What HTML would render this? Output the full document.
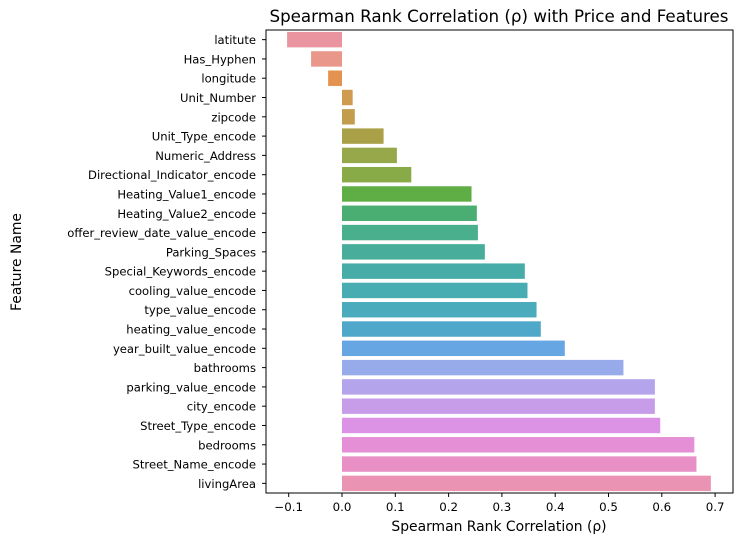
<!DOCTYPE html>
<html><head><meta charset="utf-8"><style>
body{margin:0;background:#fff}
text{font-family:"DejaVu Sans","Liberation Sans",sans-serif;fill:#000}
</style></head><body>
<svg id="chart" width="741" height="545" xmlns="http://www.w3.org/2000/svg">
<rect width="741" height="545" fill="#fff"/>
<text x="499" y="22" font-size="16.7" text-anchor="middle">Spearman Rank Correlation (ρ) with Price and Features</text>
<text x="499" y="531" font-size="13.9" text-anchor="middle">Spearman Rank Correlation (ρ)</text>
<text transform="translate(21,262) rotate(-90)" font-size="13.9" text-anchor="middle">Feature Name</text>
<g id="bars"></g><g id="yt"></g><g id="xt"></g>
<rect x="266" y="30" width="467" height="463" fill="none" stroke="#000" stroke-width="1"/>
</svg>
<script>
const categories=["latitute","Has_Hyphen","longitude","Unit_Number","zipcode","Unit_Type_encode","Numeric_Address","Directional_Indicator_encode","Heating_Value1_encode","Heating_Value2_encode","offer_review_date_value_encode","Parking_Spaces","Special_Keywords_encode","cooling_value_encode","type_value_encode","heating_value_encode","year_built_value_encode","bathrooms","parking_value_encode","city_encode","Street_Type_encode","bedrooms","Street_Name_encode","livingArea"];
const values=[-0.103,-0.058,-0.026,0.020,0.024,0.078,0.103,0.130,0.243,0.253,0.255,0.268,0.343,0.348,0.365,0.373,0.418,0.528,0.587,0.587,0.597,0.661,0.665,0.692];
const xTicks=[-0.1,0.0,0.1,0.2,0.3,0.4,0.5,0.6,0.7];
const xTickLabels=["−0.1","0.0","0.1","0.2","0.3","0.4","0.5","0.6","0.7"];
const colors=["#e9949f","#e8978a","#e3924f","#cf9b50","#c29d4e","#a9a048","#97a84a","#88ab48","#5fad45","#4aae73","#4aaf8c","#48ae9b","#47aca8","#48acb3","#4aabbd","#4fa8ca","#66a6e2","#97aaea","#b4a4ec","#c79dea","#dd93e5","#e48fd6","#e88fc5","#ea93b3"];
const NS="http://www.w3.org/2000/svg";
const xs=v=>342+v*533;
const plotTop=30,plotBot=493,step=(plotBot-plotTop)/categories.length;
const ys=i=>plotTop+step*(i+0.5);
const bh=step*0.8;
const bars=document.getElementById('bars'),yt=document.getElementById('yt'),xt=document.getElementById('xt');
categories.forEach((c,i)=>{
  const r=document.createElementNS(NS,'rect');
  
  
  const x0=Math.min(xs(0),xs(values[i])),w=Math.abs(xs(values[i])-xs(0));
  r.setAttribute('x',x0);r.setAttribute('y',ys(i)-bh/2);r.setAttribute('width',w);r.setAttribute('height',bh);r.setAttribute('fill',colors[i%colors.length]);
  bars.appendChild(r);
  const l=document.createElementNS(NS,'line');
  
  
  l.setAttribute('x1',262);l.setAttribute('x2',266);l.setAttribute('y1',ys(i));l.setAttribute('y2',ys(i));l.setAttribute('stroke','#000');
  yt.appendChild(l);
  const t=document.createElementNS(NS,'text');
  
  
  t.setAttribute('x',256);t.setAttribute('y',ys(i)+4.5);t.setAttribute('font-size','11.6');t.setAttribute('text-anchor','end');
  t.textContent=c;yt.appendChild(t);
});
xTicks.forEach((v,i)=>{
  const l=document.createElementNS(NS,'line');
  
  
  l.setAttribute('x1',xs(v));l.setAttribute('x2',xs(v));l.setAttribute('y1',493);l.setAttribute('y2',497);l.setAttribute('stroke','#000');
  xt.appendChild(l);
  const t=document.createElementNS(NS,'text');
  
  
  t.setAttribute('x',xs(v));t.setAttribute('y',511);t.setAttribute('font-size','11.8');t.setAttribute('text-anchor','middle');
  t.textContent=xTickLabels[i];xt.appendChild(t);
});
</script>
</body></html>
